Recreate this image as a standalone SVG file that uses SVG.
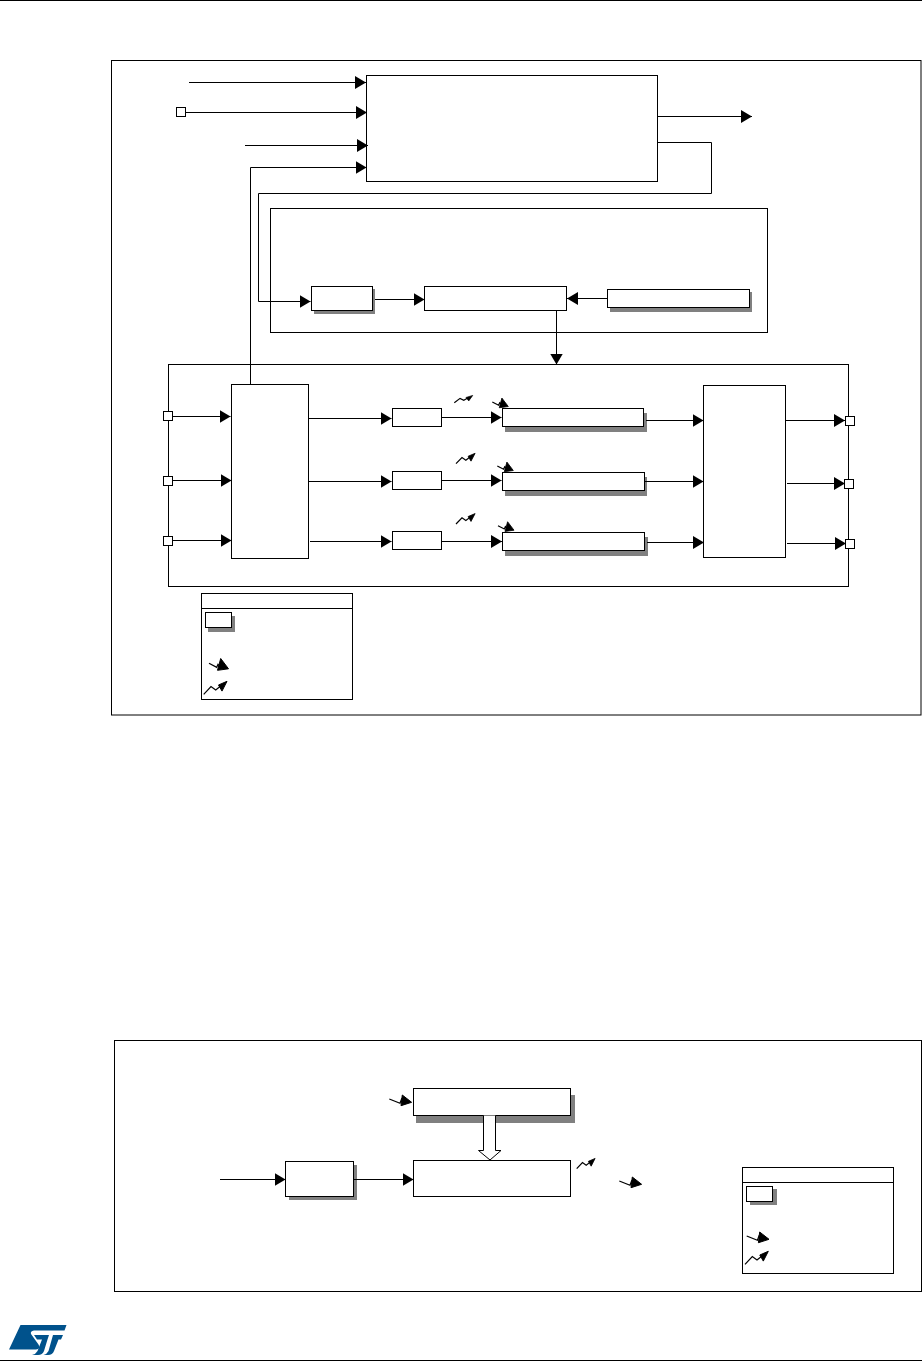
<svg xmlns="http://www.w3.org/2000/svg" width="922" height="1361" viewBox="0 0 922 1361">
<style>
.b{fill:#fff;stroke:#000;stroke-width:1}
.n{fill:none;stroke:#000;stroke-width:1}
.s{fill:#808080;stroke:none}
.k{fill:#000;stroke:#000;stroke-width:1;stroke-linejoin:round}
.l{fill:none;stroke:#000;stroke-width:1.2;vector-effect:non-scaling-stroke}
</style>
<defs>
<marker id="a" markerUnits="userSpaceOnUse" markerWidth="11.5" markerHeight="13" refX="11" refY="6.5" orient="auto"><path d="M0 0L11 6.5L0 13Z" fill="#000"/></marker>
<g id="up"><path class="l" d="M0 0L7.3-7.7L12-4.3L17-8.3"/><path class="k" d="M23.3-13L14.8-9.3L18.3-3.2Z"/></g>
<g id="dn"><path class="l" d="M0 0L7.7 4L9 1L12 4"/><path class="k" d="M19.5 5.5L11.7-4.8L8.5 7Z"/></g>
<g id="dn2"><path class="l" d="M0 0L10.7 4.3L12.3 0L14.7 2.7"/><path class="k" d="M22.3 3.3L13-4L11.7 6.7Z"/></g>
</defs>
<g id="page-rules"><path class="n" d="M0 .5H922M0 1360.5H922"/></g>
<g id="frame-top"><rect class="b" x="111.5" y="60.5" width="809.5" height="654.5"/></g>
<g id="frame-bottom"><rect class="b" x="114.5" y="1040.5" width="807" height="251"/></g>
<g id="main-block"><rect class="b" x="366.5" y="75.5" width="291" height="106"/></g>
<g id="group-block"><rect class="b" x="270.5" y="208.5" width="497" height="124"/></g>
<g id="small-block"><rect class="s" x="314" y="289" width="61" height="25"/><rect class="b" x="311.5" y="286.5" width="61" height="24"/></g>
<g id="mid-block"><rect class="b" x="424.5" y="286.5" width="142" height="24"/></g>
<g id="right-block"><rect class="s" x="610" y="292" width="142" height="20"/><rect class="b" x="607.5" y="289.5" width="142" height="18"/></g>
<g id="channels"><rect class="b" x="168.5" y="364.5" width="680" height="222"/></g>
<g id="in-mux"><rect class="b" x="231.5" y="384.5" width="77" height="174"/></g>
<g id="out-mux"><rect class="b" x="703.5" y="385.5" width="82" height="172"/></g>
<g id="presc-1"><rect class="b" x="392.5" y="408.5" width="49" height="18"/></g>
<g id="presc-2"><rect class="b" x="392.5" y="471.5" width="49" height="18"/></g>
<g id="presc-3"><rect class="b" x="392.5" y="531.5" width="49" height="18"/></g>
<g id="ctr-1"><rect class="s" x="505" y="413" width="142" height="19"/><rect class="b" x="502.5" y="408.5" width="141" height="18"/></g>
<g id="ctr-2"><rect class="s" x="505" y="477" width="142" height="19"/><rect class="b" x="502.5" y="472.5" width="142" height="18"/></g>
<g id="ctr-3"><rect class="s" x="505" y="537" width="143" height="19"/><rect class="b" x="502.5" y="532.5" width="142" height="18"/></g>
<g id="legend-1"><rect class="b" x="201.5" y="593.5" width="151" height="106"/><path class="n" d="M201.5 608.5H352.5"/><rect class="s" x="208" y="616" width="27" height="16"/><rect class="b" x="205.5" y="612.5" width="26" height="15"/><use href="#dn" x="209" y="663.3"/><use href="#up" x="203.7" y="694.3"/></g>
<g id="legend-2"><rect class="b" x="742.5" y="1167.5" width="151" height="106"/><path class="n" d="M742.5 1182.5H893.5"/><rect class="s" x="750" y="1189" width="27" height="16"/><rect class="b" x="746.5" y="1186.5" width="26" height="15"/><use href="#dn2" x="746.7" y="1236"/><use href="#up" x="745" y="1264.3"/></g>
<g id="bottom-top"><rect class="s" x="416" y="1095" width="159" height="28"/><rect class="b" x="413.5" y="1088.5" width="157" height="27"/></g>
<g id="bottom-low"><rect class="b" x="413.5" y="1160.5" width="157" height="36"/></g>
<g id="bottom-small"><rect class="s" x="289" y="1165" width="68" height="35"/><rect class="b" x="285.5" y="1161.5" width="68" height="35"/></g>
<g id="connectors">
<path class="n" marker-end="url(#a)" d="M189 82.5H366"/>
<path class="n" marker-end="url(#a)" d="M185.5 112.5H367"/>
<path class="n" marker-end="url(#a)" d="M245 145.5H368"/>
<path class="n" marker-end="url(#a)" d="M250.5 384.5V167.5H366.5"/>
<path class="n" marker-end="url(#a)" d="M657.5 116.5H752"/>
<path class="n" marker-end="url(#a)" d="M657.5 142.5H711.5V193.5H258.5V301.5H310.5"/>
<path class="n" marker-end="url(#a)" d="M375 299.5H424.5"/>
<path class="n" marker-end="url(#a)" d="M607.5 298.5H567"/>
<path class="n" marker-end="url(#a)" d="M556.5 310.5V364.5"/>
<path class="n" marker-end="url(#a)" d="M172.5 416.5H230.5"/>
<path class="n" marker-end="url(#a)" d="M172.5 480.5H231.5"/>
<path class="n" marker-end="url(#a)" d="M172.5 540.5H231.5"/>
<path class="n" marker-end="url(#a)" d="M308.5 418.5H391.5"/>
<path class="n" marker-end="url(#a)" d="M308.5 481.5H391.5"/>
<path class="n" marker-end="url(#a)" d="M310 541.5H391.5"/>
<path class="n" marker-end="url(#a)" d="M441.5 417.5H501.5"/>
<path class="n" marker-end="url(#a)" d="M441.5 480.5H501.5"/>
<path class="n" marker-end="url(#a)" d="M441.5 541.5H502"/>
<path class="n" marker-end="url(#a)" d="M646 420.5H703.5"/>
<path class="n" marker-end="url(#a)" d="M644.5 481.5H703.5"/>
<path class="n" marker-end="url(#a)" d="M647 542.5H704"/>
<path class="n" marker-end="url(#a)" d="M785.5 420.5H845"/>
<path class="n" marker-end="url(#a)" d="M787 483.5H845"/>
<path class="n" marker-end="url(#a)" d="M787 543.5H846"/>
<path class="n" marker-end="url(#a)" d="M220 1179.5H285.5"/>
<path class="n" marker-end="url(#a)" d="M353.5 1179.5H413.5"/>
<path class="b" d="M483.5 1115.5V1150.5H478.5L490 1160L501 1150.5H495.5V1115.5"/>
</g>
<g id="ports">
<rect class="b" x="176.5" y="107.5" width="9" height="9"/>
<rect class="b" x="163.5" y="411.5" width="9" height="9"/>
<rect class="b" x="163.5" y="476.5" width="9" height="9"/>
<rect class="b" x="163.5" y="536.5" width="9" height="9"/>
<rect class="b" x="845.5" y="416.5" width="9" height="9"/>
<rect class="b" x="844.5" y="479.5" width="9" height="9"/>
<rect class="b" x="845.5" y="539.5" width="9" height="9"/>
</g>
<g id="signals">
<use href="#up" transform="translate(454.3 402.7) scale(.79 .56)"/>
<use href="#up" transform="translate(456 463.7) scale(.82 .8)"/>
<use href="#up" transform="translate(456 524) scale(.82 .8)"/>
<use href="#dn" transform="translate(492.3 402) scale(.82)"/>
<use href="#dn" transform="translate(497.3 466) scale(.82)"/>
<use href="#dn" transform="translate(498 525.7) scale(.82)"/>
<use href="#dn2" x="389.3" y="1099"/>
<use href="#dn2" x="619.3" y="1181"/>
<use href="#up" transform="translate(576.7 1168.7) scale(.79)"/>
</g>
<g id="logo" fill="#00528c">
<path d="M20.5 1325H66.5L64.5 1330.5H34Q30 1331 31 1334L38.5 1344.5Q41 1349 36 1349.5H9Z"/>
<path d="M34 1335H49L47.5 1339.5L44 1351Q42.5 1355 38 1355H32Q36 1354 37.5 1351L42 1339.5H37Z"/>
<path d="M53 1335H63L61 1339.5H58.5L54 1351Q52.5 1355 48 1355H43.5Q47 1354 48.5 1351Z"/>
</g>
</svg>
